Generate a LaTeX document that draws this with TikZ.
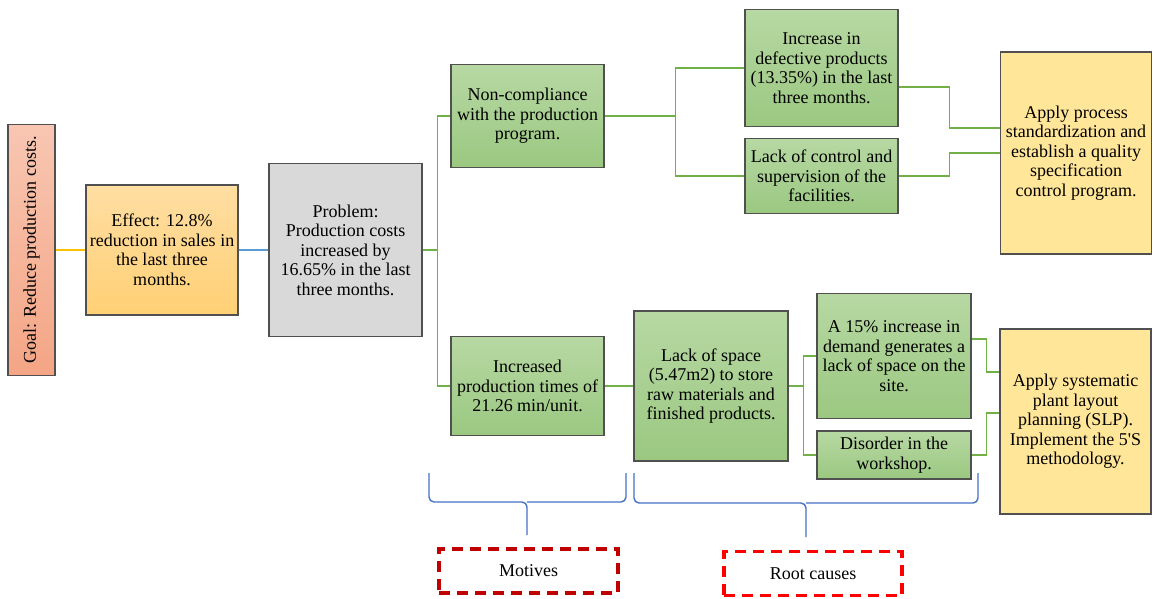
\documentclass[tikz,border=0pt]{standalone}
\usepackage{fontspec}
\setmainfont{Liberation Serif}
\definecolor{boxline}{HTML}{505050}
\definecolor{greentop}{HTML}{B7D8A3}
\definecolor{greenbot}{HTML}{9BC881}
\definecolor{goaltop}{HTML}{F8C6B2}
\definecolor{goalbot}{HTML}{F4A585}
\definecolor{efftop}{HTML}{FFDEA3}
\definecolor{effbot}{HTML}{FFD075}
\definecolor{applyfill}{HTML}{FFE699}
\definecolor{probfill}{HTML}{D9D9D9}
\definecolor{linkgreen}{HTML}{70B047}
\definecolor{linkyellow}{HTML}{FFC000}
\definecolor{linkblue}{HTML}{5B9BD5}
\definecolor{braceblue}{HTML}{4472C4}
\definecolor{darkred}{HTML}{C00000}
\definecolor{brightred}{HTML}{FF0000}
\begin{document}
\begin{tikzpicture}[x=1pt,y=-1pt,
  box/.style={draw=boxline, line width=1.1pt, align=center, inner sep=1pt,
    font=\fontsize{18}{19.5}\selectfont},
  greenbox/.style={box, top color=greentop, bottom color=greenbot, minimum width=153pt},
  applybox/.style={box, fill=applyfill, minimum width=151pt},
  link/.style={linkgreen, line width=1.7pt},
  bracket/.style={braceblue, line width=1.4pt, rounded corners=5pt},
  dashbox/.style={line width=3.2pt, dash pattern=on 11pt off 7pt, minimum width=178pt,
    minimum height=44pt, font=\fontsize{18}{19.5}\selectfont}]
\useasboundingbox (0,0) rectangle (1153,598);

% goal, effect and problem
\node[box, top color=goaltop, bottom color=goalbot, minimum width=47pt, minimum height=251pt]
  (goal) at (31.5,250) {\rotatebox{90}{Goal: Reduce production costs.}};
\node[box, top color=efftop, bottom color=effbot, minimum width=152pt, minimum height=130pt]
  (effect) at (162,250) {Effect: 12.8\%\\reduction in sales in\\the last three\\months.};
\node[box, fill=probfill, minimum width=153pt, minimum height=173pt]
  (problem) at (345.5,250) {Problem:\\Production costs\\increased by\\16.65\% in the last\\three months.};

% motives
\node[greenbox, minimum height=103pt] (noncomp) at (527.5,116) {Non-compliance\\with the production\\program.};
\node[greenbox, minimum height=99pt] (prodtime) at (527.5,386) {Increased\\production times of\\21.26 min/unit.};

% root causes
\node[greenbox, minimum height=117pt] (defects) at (821.5,68) {Increase in\\defective products\\(13.35\%) in the last\\three months.};
\node[greenbox, minimum height=75pt] (control) at (821.5,176) {Lack of control and\\supervision of the\\facilities.};
\node[greenbox, minimum width=154pt, minimum height=150pt] (space) at (711,386) {Lack of space\\(5.47m2) to store\\raw materials and\\finished products.};
\node[greenbox, minimum width=154pt, minimum height=125pt] (demand) at (894,356) {A 15\% increase in\\demand generates a\\lack of space on the\\site.};
\node[greenbox, minimum width=154pt, minimum height=48pt] (disorder) at (894,455) {Disorder in the\\workshop.};

% proposals
\node[applybox, minimum height=202pt] (apply1) at (1076,153) {Apply process\\standardization and\\establish a quality\\specification\\control program.};
\node[applybox, minimum height=185pt] (apply2) at (1075.5,421.5) {Apply systematic\\plant layout\\planning (SLP).\\Implement the 5\textquotesingle S\\methodology.};

% connectors
\draw[linkyellow, line width=1.7pt] (goal) -- (effect);
\draw[linkblue, line width=1.7pt] (effect) -- (problem);
\draw[link] (problem.east) -- ++(15,0) coordinate (j1);
\draw[link] (j1) |- (noncomp.west);
\draw[link] (j1) |- (prodtime.west);
\draw[link] (noncomp.east) -- ++(71,0) coordinate (j2);
\draw[link] (j2) |- (defects.west);
\draw[link] (j2) |- (control.west);
\draw[link] ([yshift=-19pt]defects.east) -- ++(51,0) |- ([yshift=25pt]apply1.west);
\draw[link] (control.east) -- ++(51,0) |- (apply1.west);
\draw[link] (prodtime) -- (space);
\draw[link] (space.east) -- ++(15,0) coordinate (j3);
\draw[link] (j3) |- (demand.west);
\draw[link] (j3) |- (disorder.west);
\draw[link] ([yshift=17pt]demand.east) -- ++(15,0) |- ([yshift=49.5pt]apply2.west);
\draw[link] (disorder.east) -- ++(15,0) |- ([yshift=8.5pt]apply2.west);

% braces and labels
\draw[bracket] (429,473) |- (527,502) -- (527,535);
\draw[bracket] (626,473) |- (527,502);
\draw[bracket] (634,473) |- (806,503) -- (806,537);
\draw[bracket] (978,473) |- (806,503);
\node[dashbox, draw=darkred, minimum width=179pt] (motives) at (528.5,571) {Motives};
\node[dashbox, draw=brightred] (roots) at (813,573.5) {Root causes};
\end{tikzpicture}
\end{document}
